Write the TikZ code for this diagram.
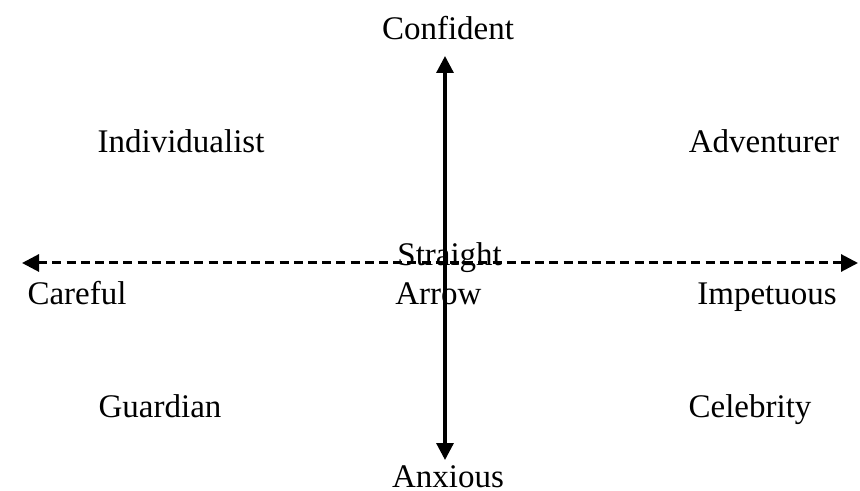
\documentclass[tikz,border=0pt]{standalone}
\usepackage{fontspec}
\setmainfont{Liberation Serif}
\usetikzlibrary{arrows.meta}
\begin{document}
\begin{tikzpicture}[x=0.5pt,y=-0.5pt,
  lbl/.style={anchor=base,inner sep=0pt,font=\fontsize{16.5}{19}\selectfont},
  axis/.style={line width=1.6pt,-{Triangle[length=8.5pt,width=8.5pt]}},
  dashaxis/.style={line width=1.5pt,dash pattern=on 4.5pt off 2.6pt,{Triangle[length=8.5pt,width=8.5pt]}-{Triangle[length=8.5pt,width=8.5pt]}}]
\useasboundingbox (0,0) rectangle (860,491);
\coordinate (vc) at (445,263);
\coordinate (top) at (445,56);
\coordinate (bottom) at (445,460);
\coordinate (left) at (22,263);
\coordinate (right) at (858,263);
\draw[dashaxis] (left) -- (right);
\draw[axis] (vc) -- (top);
\draw[axis] (vc) -- (bottom);
\node[lbl] (confident) at (448,40) {Confident};
\node[lbl] (anxious) at (448,487) {Anxious};
\node[lbl] (individualist) at (181,153) {Individualist};
\node[lbl] (adventurer) at (764,153) {Adventurer};
\node[lbl] (careful) at (77,304) {Careful};
\node[lbl] (impetuous) at (767,304) {Impetuous};
\node[lbl] (guardian) at (160,417) {Guardian};
\node[lbl] (celebrity) at (750,417) {Celebrity};
\node[lbl,anchor=base west] (straight) at (397,265) {Straight};
\node[lbl,anchor=base west] (arrowlbl) at (395,304) {Arrow};
\end{tikzpicture}
\end{document}
